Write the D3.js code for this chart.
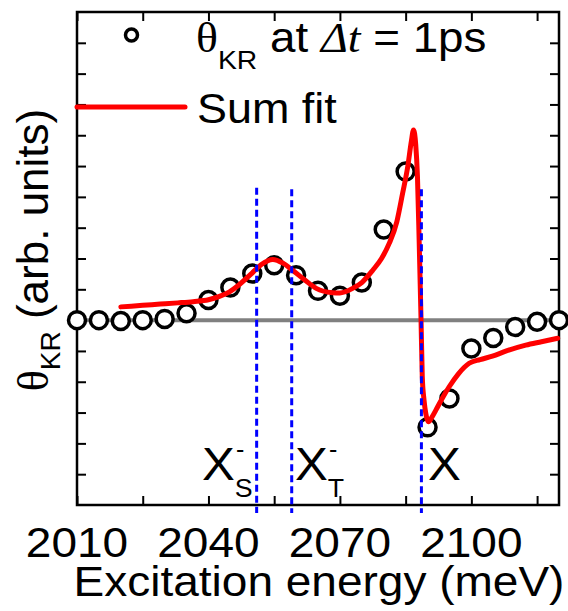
<!DOCTYPE html>
<html>
<head>
<meta charset="utf-8">
<script src="https://cdn.jsdelivr.net/npm/d3@7"></script>
<style>
  html, body { margin: 0; padding: 0; background: #fff; }
  svg { display: block; }
  text { font-family: "Liberation Sans", Arial, sans-serif; fill: #000; }
</style>
</head>
<body>
<svg id="chart" width="568" height="611"></svg>
<script>
// Kerr rotation measured at Δt = 1 ps (open circles)
const energies = [2010, 2015, 2020, 2025, 2030, 2035, 2040, 2045, 2050, 2055, 2060,
  2065, 2070, 2075, 2080, 2085, 2090, 2095, 2100, 2105, 2110, 2115, 2120];
const thetaKR = [0, 0, -0.03, 0, 0.04, 0.22, 0.65, 1.06, 1.51, 1.78, 1.46,
  0.95, 0.79, 1.22, 2.94, 4.82, -3.48, -2.54, -0.92, -0.58, -0.22, -0.05, 0];

// Sum of the resonance fits (red curve)
const fitEnergy = [2020, 2025, 2029, 2033, 2036.5, 2040, 2042.5, 2044.8, 2047, 2049.9,
  2052, 2054.7, 2057, 2059.2, 2062, 2064.6, 2068.3, 2070, 2072.9, 2075, 2077.5,
  2079.5, 2081.25, 2083, 2084.3, 2085.5, 2086.3, 2086.8, 2087.3, 2087.7, 2088.1,
  2088.5, 2088.8, 2089.2, 2089.6, 2090.2, 2091, 2091.9, 2093.5, 2094.9, 2097,
  2099.5, 2102, 2104.8, 2108, 2112.4, 2116, 2119.7];
const fitValue = [0.43, 0.48, 0.52, 0.56, 0.60, 0.66, 0.77, 0.92, 1.15, 1.52,
  1.80, 1.97, 1.85, 1.62, 1.30, 1.03, 0.89, 0.88, 1.03, 1.22, 1.62,
  2.0, 2.49, 3.2, 4.11, 5.0, 5.8, 6.17, 5.7, 4.65, 2.49,
  0.11, -1.84, -2.6, -3.03, -3.30, -3.15, -2.92, -2.5, -2.17, -1.75,
  -1.40, -1.28, -1.17, -1.0, -0.81, -0.70, -0.59];

// Exciton resonances (blue dashed markers)
const resonanceEnergy = [2051, 2059, 2088.6];
const resonanceTop = [4.3, 4.25, 4.25];

const xTicks = [2010, 2025, 2040, 2055, 2070, 2085, 2100, 2115];
const xTickLabels = [2010, 2040, 2070, 2100];
const yTicks = [-5, -4, -3, -2, -1, 0, 1, 2, 3, 4, 5, 6, 7, 8, 9];

const svg = d3.select("#chart");
const plotLeft = 77, plotRight = 559, plotTop = 12, plotBottom = 505;
const stretch = 1.07;   // slightly wide lettering

const x = d3.scaleLinear().domain([2010, 2120]).range([plotLeft, plotRight]);
const y = d3.scaleLinear().domain([-6, 10]).range([plotBottom, plotTop]);

// zero reference line
svg.append("line")
  .attr("x1", x(2010)).attr("x2", x(2120))
  .attr("y1", y(0)).attr("y2", y(0))
  .attr("stroke", "#808080").attr("stroke-width", 4);

// axes with inward ticks on all four sides
const tickLen = 9;
const axisStyle = g => {
  g.select(".domain").remove();
  g.selectAll(".tick line").attr("stroke", "#000").attr("stroke-width", 2);
  g.selectAll(".tick text").remove();
};
svg.append("g").attr("transform", `translate(0,${plotBottom})`)
  .call(d3.axisBottom(x).tickValues(xTicks).tickSizeInner(-tickLen).tickSizeOuter(0)).call(axisStyle);
svg.append("g").attr("transform", `translate(0,${plotTop})`)
  .call(d3.axisTop(x).tickValues(xTicks).tickSizeInner(-tickLen).tickSizeOuter(0)).call(axisStyle);
svg.append("g").attr("transform", `translate(${plotLeft},0)`)
  .call(d3.axisLeft(y).tickValues(yTicks).tickSizeInner(-tickLen).tickSizeOuter(0)).call(axisStyle);
svg.append("g").attr("transform", `translate(${plotRight},0)`)
  .call(d3.axisRight(y).tickValues(yTicks).tickSizeInner(-tickLen).tickSizeOuter(0)).call(axisStyle);

// frame
svg.append("rect")
  .attr("x", plotLeft).attr("y", plotTop)
  .attr("width", plotRight - plotLeft).attr("height", plotBottom - plotTop)
  .attr("fill", "none").attr("stroke", "#000").attr("stroke-width", 2.5);

// x tick labels
svg.append("g").selectAll("text").data(xTickLabels).join("text")
  .attr("transform", d => `translate(${x(d)},557) scale(${stretch},1)`)
  .attr("text-anchor", "middle")
  .attr("font-size", 43)
  .text(d => d);

// axis titles
svg.append("text")
  .attr("transform", `translate(${(plotLeft + plotRight) / 2 + 1},596) scale(${stretch},1)`)
  .attr("text-anchor", "middle").attr("font-size", 43)
  .text("Excitation energy (meV)");

const yTitle = svg.append("text")
  .attr("transform", "translate(48,250) rotate(-90)")
  .attr("text-anchor", "middle").attr("font-size", 44);
yTitle.append("tspan").attr("font-family", "'Liberation Serif', serif").text("θ");
yTitle.append("tspan").attr("font-size", 28).attr("dy", 12).text("KR");
yTitle.append("tspan").attr("dy", -12).text(" (arb. units)");

// data points
svg.append("g").selectAll("circle").data(energies).join("circle")
  .attr("cx", d => x(d))
  .attr("cy", (d, i) => y(thetaKR[i]))
  .attr("r", 8.5)
  .attr("fill", "#fff").attr("stroke", "#000").attr("stroke-width", 3.5);

// fit curve
const line = d3.line()
  .x((d, i) => x(fitEnergy[i]))
  .y(d => y(d))
  .curve(d3.curveMonotoneX);
svg.append("path")
  .attr("d", line(fitValue))
  .attr("fill", "none").attr("stroke", "#ff0000").attr("stroke-width", 5)
  .attr("stroke-linejoin", "round").attr("stroke-linecap", "round");

// resonance markers
svg.append("g").selectAll("line").data(resonanceEnergy).join("line")
  .attr("x1", d => x(d)).attr("x2", d => x(d))
  .attr("y1", (d, i) => y(resonanceTop[i]))
  .attr("y2", plotBottom + 8)
  .attr("stroke", "#0000ff").attr("stroke-width", 3)
  .attr("stroke-dasharray", "7,4");

// resonance labels
const labelFont = 46, subFont = 25;
function excitonLabel(xPos, sub, charged) {
  const t = svg.append("text")
    .attr("transform", `translate(${xPos},480) scale(${stretch},1)`)
    .attr("font-size", labelFont);
  t.append("tspan").text("X");
  if (sub) {
    t.append("tspan").attr("font-size", subFont).attr("dy", 17).text(sub);
  }
  if (charged) {
    svg.append("text").attr("x", xPos + 34).attr("y", 458)
      .attr("font-size", subFont).text("-");
  }
}
excitonLabel(202, "S", true);
excitonLabel(295, "T", true);
excitonLabel(428, null, false);

// legend
svg.append("circle").attr("cx", 131.5).attr("cy", 35).attr("r", 6)
  .attr("fill", "#fff").attr("stroke", "#000").attr("stroke-width", 3.5);
const leg1 = svg.append("text")
  .attr("transform", "translate(196,52) scale(1.09,1)")
  .attr("font-size", 42);
leg1.append("tspan").attr("font-family", "'Liberation Serif', serif").text("θ");
leg1.append("tspan").attr("font-size", 26).attr("dy", 17).text("KR");
leg1.append("tspan").attr("dy", -17).text(" at ");
leg1.append("tspan").attr("font-family", "'Liberation Serif', serif").attr("font-style", "italic").text("Δt");
leg1.append("tspan").text(" = 1ps");

svg.append("line").attr("x1", plotLeft).attr("x2", 185).attr("y1", 107).attr("y2", 107)
  .attr("stroke", "#ff0000").attr("stroke-width", 5).attr("stroke-linecap", "round");
svg.append("text")
  .attr("transform", `translate(197,123) scale(${stretch},1)`)
  .attr("font-size", 42).text("Sum fit");
</script>
</body>
</html>
